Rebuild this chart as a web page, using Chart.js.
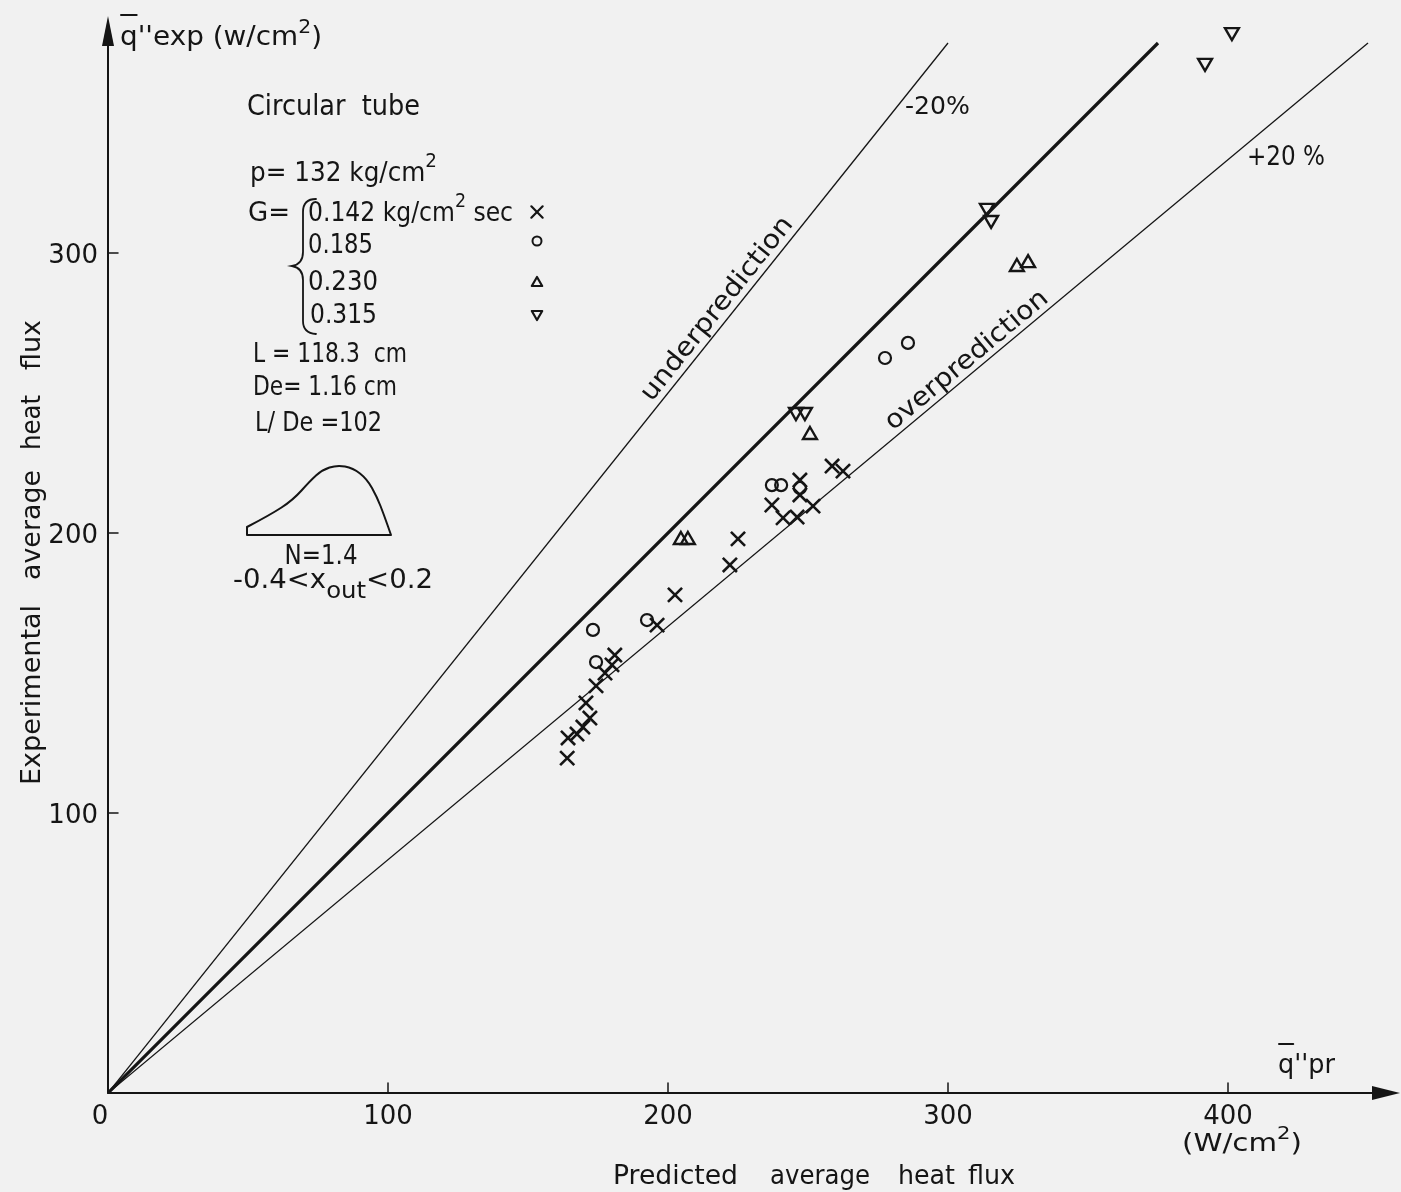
<!DOCTYPE html>
<html>
<head>
<meta charset="utf-8">
<script src="https://cdn.jsdelivr.net/npm/chart.js@4.4.0/dist/chart.umd.min.js"></script>
<style>
  body { margin: 0; background: #f1f1f1; }
  #wrap { width: 1401px; height: 1192px; }
</style>
</head>
<body>
<div id="wrap"><canvas id="flux-chart" width="1401" height="1192"></canvas></div>
<script>
// Experimental vs predicted average heat flux, circular tube

const xTicks = [0, 100, 200, 300, 400];
const yTicks = [100, 200, 300];

// G = 0.142 kg/cm2 sec  (x)
const g142Pred = [164, 164.3, 167.5, 169.6, 172.1, 170.7, 174.3, 177.5, 180, 181, 196.1, 202.5, 222.1, 225, 237.1, 241.1, 246.1, 251.8, 247.1, 247.1, 258.6, 262.5];
const g142Exp  = [119.6, 126.8, 128.2, 130.7, 133.9, 139.3, 145.4, 150, 152.9, 156.4, 167.1, 177.9, 188.6, 197.9, 210, 205.4, 205.7, 209.6, 218.9, 213.6, 223.9, 222.1];

// G = 0.185  (o)
const g185Pred = [173.2, 174.3, 192.5, 237.1, 240.4, 247.1, 277.5, 285.7];
const g185Exp  = [165.4, 153.9, 168.9, 217.1, 217.1, 216.1, 262.5, 267.9];

// G = 0.230  (triangle)
const g230Pred = [204.6, 207.1, 250.7, 324.6, 328.6];
const g230Exp  = [197.5, 197.5, 235, 295, 296.4];

// G = 0.315  (inverted triangle)
const g315Pred = [245.7, 248.9, 313.9, 315.4, 391.8, 401.4];
const g315Exp  = [243.2, 243.2, 316.1, 311.8, 367.9, 378.9];

// reference lines q_exp = k * q_pr : -20 %, exact, +20 %
const refSlopes = [1.25, 1, 1 / 1.2];
const refTopY = 375;

const FONT = '"DejaVu Sans", sans-serif';
const INK = '#151515';

function pairs(xs, ys) {
    return xs.map((v, i) => ({ x: v, y: ys[i] }));
}

// draws a run of text pieces squeezed to a given width; pieces are [text, relSize, dy]
function drawFit(ctx, parts, x, y, width, size, align) {
    let natural = 0;
    const ws = [];
    parts.forEach(p => {
        ctx.font = Math.round(size * (p[1] || 1)) + 'px ' + FONT;
        const w = ctx.measureText(p[0]).width;
        ws.push(w);
        natural += w;
    });
    const sx = width ? width / natural : 1;
    let cx = x;
    if (align === 'center') cx = x - natural * sx / 2;
    if (align === 'right') cx = x - natural * sx;
    const spans = [];
    parts.forEach((p, i) => {
        ctx.save();
        ctx.translate(cx, y + (p[2] || 0));
        ctx.scale(sx, 1);
        ctx.font = Math.round(size * (p[1] || 1)) + 'px ' + FONT;
        ctx.textAlign = 'left';
        ctx.textBaseline = 'alphabetic';
        ctx.fillText(p[0], 0, 0);
        ctx.restore();
        spans.push([cx, ws[i] * sx]);
        cx += ws[i] * sx;
    });
    return spans;
}

function seg(ctx, x1, y1, x2, y2) {
    ctx.beginPath();
    ctx.moveTo(x1, y1);
    ctx.lineTo(x2, y2);
    ctx.stroke();
}

const decor = {
    id: 'decor',
    beforeDraw(chart) {
        const ctx = chart.ctx;
        ctx.save();
        ctx.fillStyle = '#f1f1f1';
        ctx.fillRect(0, 0, chart.width, chart.height);
        ctx.restore();
    },
    afterDraw(chart) {
        const ctx = chart.ctx;
        const xs = chart.scales.x, ys = chart.scales.y;
        const x0 = xs.getPixelForValue(0), y0 = ys.getPixelForValue(0);
        ctx.save();
        ctx.strokeStyle = INK;
        ctx.fillStyle = INK;
        ctx.lineCap = 'round';

        // axes with arrows
        ctx.lineWidth = 2;
        seg(ctx, x0, y0, 1380, y0);
        seg(ctx, x0, y0, x0, 40);
        ctx.beginPath();
        ctx.moveTo(1400, y0); ctx.lineTo(1372, y0 - 7); ctx.lineTo(1372, y0 + 7); ctx.closePath();
        ctx.fill();
        ctx.beginPath();
        ctx.moveTo(x0, 16); ctx.lineTo(x0 - 6, 46); ctx.lineTo(x0 + 6, 46); ctx.closePath();
        ctx.fill();

        // ticks and tick labels
        ctx.lineWidth = 1.5;
        xTicks.forEach(v => {
            const px = xs.getPixelForValue(v);
            if (v > 0) seg(ctx, px, y0, px, y0 - 10);
            drawFit(ctx, [[String(v)]], v === 0 ? px - 8 : px, y0 + 31, 0, 26, 'center');
        });
        yTicks.forEach(v => {
            const py = ys.getPixelForValue(v);
            seg(ctx, x0, py, x0 + 10, py);
            drawFit(ctx, [[String(v)]], x0 - 10, py + 10, 0, 26, 'right');
        });

        // axis captions
        let sp = drawFit(ctx, [['q'], ["''exp (w/cm"], ['2', 0.72, -12], [')']], 120, 45, 202, 26);
        ctx.lineWidth = 2;
        seg(ctx, sp[0][0] + 1, 15, sp[0][0] + sp[0][1] - 1, 15);

        sp = drawFit(ctx, [['q'], ["''pr"]], 1278, 1073, 57, 26);
        seg(ctx, sp[0][0] + 1, 1044, sp[0][0] + sp[0][1] - 1, 1044);
        drawFit(ctx, [['(W/cm'], ['2', 0.72, -12], [')']], 1182, 1151, 120, 25);

        [['Predicted', 613, 125], ['average', 770, 100], ['heat', 898, 57], ['flux', 968, 47]].forEach(w => {
            drawFit(ctx, [[w[0]]], w[1], 1184, w[2], 26);
        });

        ctx.save();
        ctx.translate(40, 552);
        ctx.rotate(-Math.PI / 2);
        [['Experimental', -233, 180], ['average', -28, 110], ['heat', 102, 55], ['flux', 182, 50]].forEach(w => {
            drawFit(ctx, [[w[0]]], w[1], 0, w[2], 26);
        });
        ctx.restore();

        // labels along the reference lines
        const along = (k, xv, label, width, off) => {
            const px = xs.getPixelForValue(xv), py = ys.getPixelForValue(k * xv);
            const ang = Math.atan2(ys.getPixelForValue(k * 100) - y0, xs.getPixelForValue(100) - x0);
            ctx.save();
            ctx.translate(px, py);
            ctx.rotate(ang);
            drawFit(ctx, [[label]], 0, off, width, 26, 'center');
            ctx.restore();
        };
        along(refSlopes[0], 221.5, 'underprediction', 228, -7);
        along(refSlopes[2], 309.7, 'overprediction', 204, -6);
        drawFit(ctx, [['-20%']], 905, 114, 65, 24);
        drawFit(ctx, [['+20 %']], 1247, 165, 78, 26);

        // legend block
        drawFit(ctx, [['Circular  tube']], 247, 115, 173, 28);
        drawFit(ctx, [['p= 132 kg/cm'], ['2', 0.75, -14]], 250, 181, 187, 27);
        drawFit(ctx, [['G=']], 248, 221, 42, 27);
        drawFit(ctx, [['0.142 kg/cm'], ['2', 0.75, -14], [' sec']], 308, 221, 205, 27);
        drawFit(ctx, [['0.185']], 308, 253, 65, 27);
        drawFit(ctx, [['0.230']], 308, 290, 70, 27);
        drawFit(ctx, [['0.315']], 310, 323, 67, 27);
        drawFit(ctx, [['L = 118.3  cm']], 253, 362, 154, 27);
        drawFit(ctx, [['De= 1.16 cm']], 253, 395, 144, 27);
        drawFit(ctx, [['L/ De =102']], 255, 431, 127, 27);
        drawFit(ctx, [['N=1.4']], 321, 564, 73, 26, 'center');
        drawFit(ctx, [['-0.4<x'], ['out', 0.9, 10], ['<0.2']], 233, 588, 200, 26);

        // brace
        ctx.lineWidth = 1.8;
        ctx.beginPath();
        ctx.moveTo(316, 199);
        ctx.quadraticCurveTo(303, 199, 303, 212);
        ctx.lineTo(303, 252);
        ctx.quadraticCurveTo(303, 264, 292, 266);
        ctx.quadraticCurveTo(303, 268, 303, 280);
        ctx.lineTo(303, 321);
        ctx.quadraticCurveTo(303, 333, 316, 334);
        ctx.stroke();

        // axial flux profile sketch
        const prof = [[247, 527], [270, 515], [293, 500], [310, 481], [322, 470], [337, 465], [353, 468], [367, 479], [377, 497], [384, 515], [391, 535]];
        ctx.lineWidth = 2;
        ctx.lineJoin = 'round';
        ctx.beginPath();
        ctx.moveTo(391, 535);
        ctx.lineTo(247, 535);
        ctx.lineTo(prof[0][0], prof[0][1]);
        for (let i = 1; i < prof.length - 1; i++) {
            const mx = (prof[i][0] + prof[i + 1][0]) / 2, my = (prof[i][1] + prof[i + 1][1]) / 2;
            ctx.quadraticCurveTo(prof[i][0], prof[i][1], mx, my);
        }
        ctx.lineTo(391, 535);
        ctx.stroke();

        // legend symbols
        const marks = [
            { pointStyle: 'crossRot', radius: 8, rotation: 0, borderWidth: 2.2, y: 212 },
            { pointStyle: 'circle', radius: 4.5, rotation: 0, borderWidth: 2, y: 241 },
            { pointStyle: 'triangle', radius: 6, rotation: 0, borderWidth: 2.2, y: 283 },
            { pointStyle: 'triangle', radius: 6, rotation: 180, borderWidth: 2.2, y: 314 }
        ];
        ctx.fillStyle = 'rgba(0,0,0,0)';
        marks.forEach(m => {
            ctx.lineWidth = m.borderWidth;
            Chart.helpers.drawPoint(ctx, m, 537, m.y);
        });
        ctx.restore();
    }
};

const markerBase = {
    borderColor: INK,
    backgroundColor: 'rgba(0,0,0,0)',
    order: 1
};

const refLines = refSlopes.map((k, i) => ({
    type: 'line',
    data: [{ x: 0, y: 0 }, { x: refTopY / k, y: refTopY }],
    borderColor: INK,
    borderWidth: i === 1 ? 3.2 : 1.3,
    pointRadius: 0,
    fill: false,
    tension: 0,
    order: 2
}));

new Chart(document.getElementById('flux-chart').getContext('2d'), {
    type: 'scatter',
    data: {
        datasets: [
            ...refLines,
            Object.assign({ label: '0.142', data: pairs(g142Pred, g142Exp), pointStyle: 'crossRot', pointRadius: 10, borderWidth: 2.6 }, markerBase),
            Object.assign({ label: '0.185', data: pairs(g185Pred, g185Exp), pointStyle: 'circle', pointRadius: 6, borderWidth: 2.2 }, markerBase),
            Object.assign({ label: '0.230', data: pairs(g230Pred, g230Exp), pointStyle: 'triangle', pointRadius: 8, borderWidth: 2.4 }, markerBase),
            Object.assign({ label: '0.315', data: pairs(g315Pred, g315Exp), pointStyle: 'triangle', pointRotation: 180, pointRadius: 8, borderWidth: 2.4 }, markerBase)
        ]
    },
    options: {
        responsive: false,
        animation: false,
        layout: { autoPadding: false, padding: { top: 1, right: 5, left: 0, bottom: 0 } },
        plugins: {
            legend: { display: false },
            tooltip: { enabled: false }
        },
        scales: {
            x: {
                type: 'linear',
                min: 0,
                max: 460,
                afterFit: s => { s.height = 99; },
                grid: { display: false, drawTicks: false },
                border: { display: false },
                ticks: { display: false }
            },
            y: {
                type: 'linear',
                min: 0,
                max: 390,
                afterFit: s => { s.width = 108; },
                grid: { display: false, drawTicks: false },
                border: { display: false },
                ticks: { display: false }
            }
        }
    },
    plugins: [decor]
});
</script>
</body>
</html>
